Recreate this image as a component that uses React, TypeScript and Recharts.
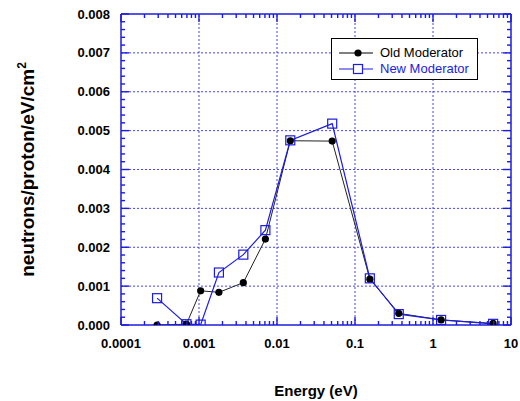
import React from 'react';
import { LineChart, Line, XAxis, YAxis, ReferenceLine } from 'recharts';

// values (energy in eV, flux in neutrons/proton/eV/cm^2)
const energy = [0.00029, 0.00069, 0.00105, 0.0018, 0.0037, 0.0071, 0.0148, 0.051, 0.155, 0.364, 1.27, 5.9];
const oldModerator = [0.0, 0.00002, 0.00088, 0.00084, 0.00109, 0.00221, 0.00474, 0.00473, 0.00118, 0.0003, 0.00013, 0.00004];
const newModerator = [0.00069, 0.00002, 0.00001, 0.00135, 0.00181, 0.00244, 0.00475, 0.00518, 0.0012, 0.00028, 0.00013, 0.00003];

const xMajorTicks = [0.0001, 0.001, 0.01, 0.1, 1, 10];
const xTickLabels = ['0.0001', '0.001', '0.01', '0.1', '1', '10'];
const yMajorTicks = [0, 0.001, 0.002, 0.003, 0.004, 0.005, 0.006, 0.007, 0.008];
const yTickLabels = ['0.000', '0.001', '0.002', '0.003', '0.004', '0.005', '0.006', '0.007', '0.008'];

const xMinorTicks = xMajorTicks.slice(0, -1).flatMap((d) => [2, 3, 4, 5, 6, 7, 8, 9].map((m) => d * m));
const yMinorTicks = yMajorTicks.slice(0, -1).flatMap((d) => [1, 2, 3, 4].map((m) => d + m * 0.0002));

const xTicks = [...xMajorTicks, ...xMinorTicks];
const yTicks = [...yMajorTicks, ...yMinorTicks];

const data = energy.map((e, i) => ({ energy: e, old: oldModerator[i], new: newModerator[i] }));

const FONT = '"Liberation Sans", Arial, Helvetica, sans-serif';
const BLUE = '#1c1cdc';
const GRID = '#4646e6';
const TW = 1.4; // tick thickness

const xMajorIndex = (v: number) => xMajorTicks.findIndex((m) => Math.abs(v / m - 1) < 1e-6);
const yMajorIndex = (v: number) => yMajorTicks.findIndex((m) => Math.abs(v - m) < 1e-9);

// inward tick marks, labels only on bottom / left
const makeXTick = (side: 'bottom' | 'top') => (props: any) => {
  const { x, y, payload } = props;
  const idx = xMajorIndex(payload.value);
  const len = idx >= 0 ? 8 : 4;
  return (
    <g>
      <rect x={x - TW / 2} y={side === 'bottom' ? y - len : y} width={TW} height={len} fill={BLUE} />
      {side === 'bottom' && idx >= 0 && (
        <text x={x} y={y + 23} textAnchor="middle" fontFamily={FONT} fontSize={13} fontWeight="bold" fill="#000">
          {xTickLabels[idx]}
        </text>
      )}
    </g>
  );
};

const makeYTick = (side: 'left' | 'right') => (props: any) => {
  const { x, y, payload } = props;
  const idx = yMajorIndex(payload.value);
  const len = idx >= 0 ? 8 : 4;
  return (
    <g>
      <rect x={side === 'left' ? x : x - len} y={y - TW / 2} width={len} height={TW} fill={BLUE} />
      {side === 'left' && idx >= 0 && (
        <text x={x - 11} y={y} dy="0.35em" textAnchor="end" fontFamily={FONT} fontSize={13} fontWeight="bold" fill="#000">
          {yTickLabels[idx]}
        </text>
      )}
    </g>
  );
};

const YTitle = (props: any) => {
  const { viewBox } = props;
  const cx = viewBox.x + 34;
  const cy = viewBox.y + viewBox.height / 2;
  return (
    <text
      transform={`translate(${cx},${cy}) rotate(-90)`}
      textAnchor="middle"
      fontFamily={FONT}
      fontSize={19}
      fontWeight="bold"
      fill="#000"
    >
      neutrons/proton/eV/cm
      <tspan dy={-8} fontSize={12}>2</tspan>
    </text>
  );
};

const CircleDot = (props: any) => {
  const { cx, cy, index } = props;
  return <circle key={`o-${index}`} cx={cx} cy={cy} r={3.6} fill="#000" />;
};

const SquareDot = (props: any) => {
  const { cx, cy, index } = props;
  return <rect key={`n-${index}`} x={cx - 4.5} y={cy - 4.5} width={9} height={9} fill="none" stroke={BLUE} strokeWidth={1.2} />;
};

const legendItems = [
  { name: 'Old Moderator', color: '#000', text: '#000', marker: 'circle' },
  { name: 'New Moderator', color: BLUE, text: BLUE, marker: 'square' },
];

const frame = { stroke: BLUE, strokeWidth: 1.5 };

export default function App() {
  return (
    <div style={{ position: 'absolute', left: 0, top: 0, width: 520, height: 401, background: '#fff' }}>
      <LineChart width={520} height={401} data={data} margin={{ top: 13, right: 8, bottom: 0, left: 0 }}>
        <XAxis
          xAxisId="x"
          dataKey="energy"
          type="number"
          scale="log"
          domain={[0.0001, 10]}
          allowDataOverflow
          ticks={xTicks}
          interval={0}
          height={76}
          tickSize={0}
          tickMargin={0}
          tickLine={false}
          axisLine={frame}
          tick={makeXTick('bottom')}
          label={{ value: 'Energy (eV)', position: 'insideBottom', offset: 5, style: { fontFamily: FONT, fontSize: 15, fontWeight: 'bold', fill: '#000' } }}
        />
        <XAxis
          xAxisId="top"
          orientation="top"
          dataKey="energy"
          type="number"
          scale="log"
          domain={[0.0001, 10]}
          allowDataOverflow
          ticks={xTicks}
          interval={0}
          height={1}
          tickSize={0}
          tickMargin={0}
          tickLine={false}
          axisLine={frame}
          tick={makeXTick('top')}
        />
        <YAxis
          yAxisId="y"
          type="number"
          domain={[0, 0.008]}
          allowDataOverflow
          ticks={yTicks}
          interval={0}
          width={121}
          tickSize={0}
          tickMargin={0}
          tickLine={false}
          axisLine={frame}
          tick={makeYTick('left')}
          label={{ content: YTitle }}
        />
        <YAxis
          yAxisId="right"
          orientation="right"
          type="number"
          domain={[0, 0.008]}
          allowDataOverflow
          ticks={yTicks}
          interval={0}
          width={1}
          tickSize={0}
          tickMargin={0}
          tickLine={false}
          axisLine={frame}
          tick={makeYTick('right')}
        />
        {xMajorTicks.slice(1, -1).map((v) => (
          <ReferenceLine key={`gx-${v}`} x={v} xAxisId="x" yAxisId="y" stroke={GRID} strokeDasharray="2 2" strokeWidth={1} />
        ))}
        {yMajorTicks.slice(1, -1).map((v) => (
          <ReferenceLine key={`gy-${v}`} y={v} xAxisId="x" yAxisId="y" stroke={GRID} strokeDasharray="2 2" strokeWidth={1} />
        ))}
        <Line
          xAxisId="top"
          yAxisId="right"
          dataKey="old"
          stroke="none"
          dot={false}
          legendType="none"
          isAnimationActive={false}
        />
        <Line
          xAxisId="x"
          yAxisId="y"
          dataKey="old"
          name="Old Moderator"
          stroke="#222"
          strokeWidth={1}
          dot={CircleDot}
          isAnimationActive={false}
        />
        <Line
          xAxisId="x"
          yAxisId="y"
          dataKey="new"
          name="New Moderator"
          stroke={BLUE}
          strokeWidth={1.2}
          dot={SquareDot}
          isAnimationActive={false}
        />
      </LineChart>
      <div
        style={{
          position: 'absolute',
          left: 331,
          top: 38,
          width: 147,
          height: 42,
          border: '1px solid #000',
          boxSizing: 'border-box',
          background: '#fff',
          fontFamily: FONT,
          fontSize: 13,
        }}
      >
        {legendItems.map((item, i) => (
          <div key={item.name} style={{ position: 'absolute', left: 7, top: 6 + i * 15.5, height: 16, lineHeight: '16px', whiteSpace: 'nowrap' }}>
            <svg width={34} height={16} style={{ verticalAlign: 'top' }}>
              <line x1={0} y1={8} x2={34} y2={8} stroke={item.color} strokeWidth={1} />
              {item.marker === 'circle' ? (
                <circle cx={19} cy={8} r={3.6} fill={item.color} />
              ) : (
                <rect x={14.5} y={3.5} width={9} height={9} fill="#fff" stroke={item.color} strokeWidth={1.2} />
              )}
            </svg>
            <span style={{ marginLeft: 7, color: item.text }}>{item.name}</span>
          </div>
        ))}
      </div>
    </div>
  );
}
